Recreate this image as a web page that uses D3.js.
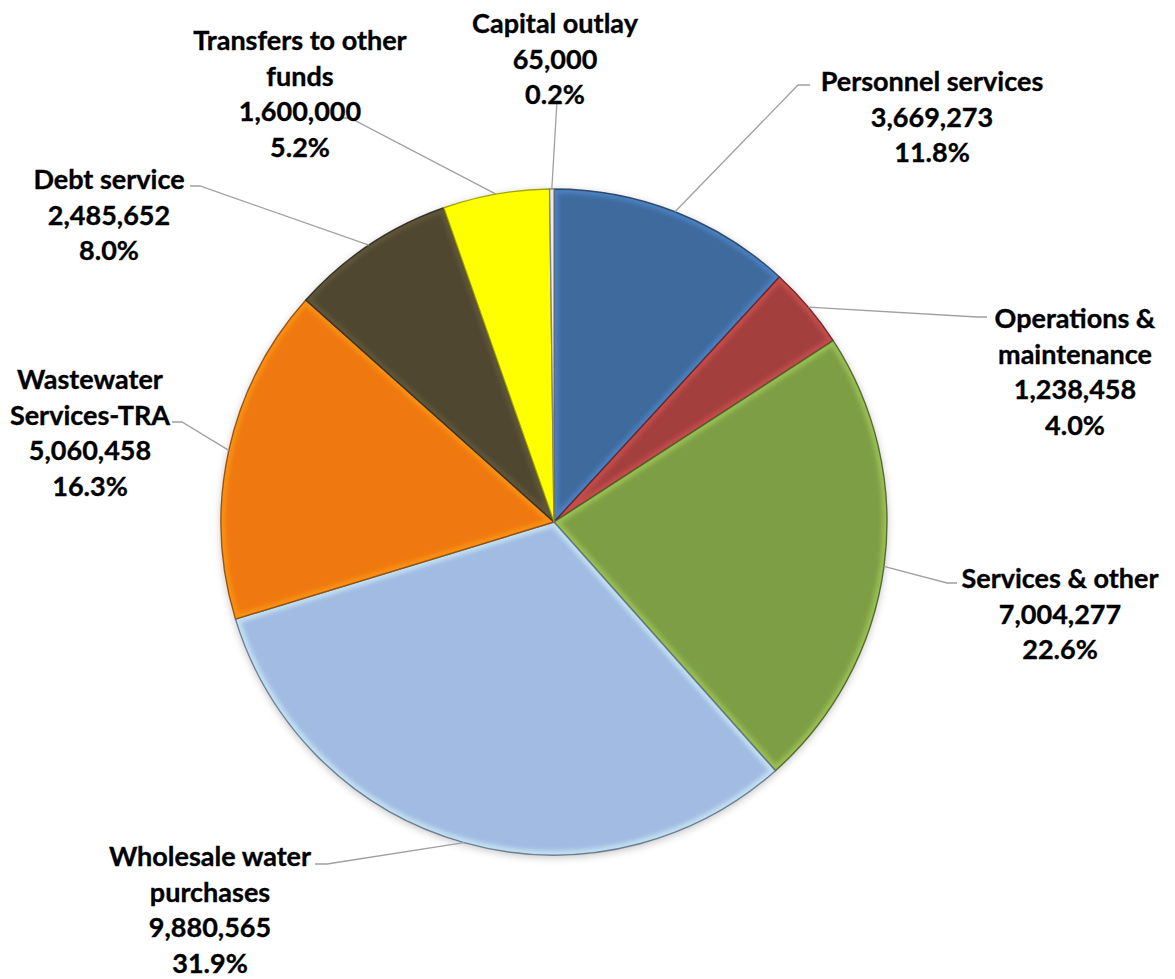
<!DOCTYPE html>
<html>
<head>
<meta charset="utf-8">
<script src="https://cdn.jsdelivr.net/npm/d3@7"></script>
<style>
  html, body { margin: 0; padding: 0; background: #fff; }
  svg { display: block; }
  .lbl { font-family: Lato, "Open Sans", sans-serif; font-weight: 700; font-size: 27px; fill: #000; stroke: #000; stroke-width: 0.35px; }
</style>
</head>
<body>
<div id="chart"></div>
<script>
// Expense categories, clockwise from 12 o'clock
const categories = [
  "Personnel services",
  "Operations & maintenance",
  "Services & other",
  "Wholesale water purchases",
  "Wastewater Services-TRA",
  "Debt service",
  "Transfers to other funds",
  "Capital outlay"
];
const amounts = [3669273, 1238458, 7004277, 9880565, 5060458, 2485652, 1600000, 65000];
const percentLabels = ["11.8%", "4.0%", "22.6%", "31.9%", "16.3%", "8.0%", "5.2%", "0.2%"];
// How each category name wraps onto lines
const nameLines = [
  ["Personnel services"],
  ["Operations &", "maintenance"],
  ["Services & other"],
  ["Wholesale water", "purchases"],
  ["Wastewater", "Services-TRA"],
  ["Debt service"],
  ["Transfers to other", "funds"],
  ["Capital outlay"]
];
const colors = ["#3E6A9E", "#A3403E", "#7E9E45", "#A1BBE2", "#F07810", "#4F4730", "#FFFF00", "#D0D0D0"];

const W = 1175, H = 979;
const cx = 554, cy = 522, R = 333;
const lineH = 35.5;

// Label layout: text centre x, first line centre y, leader elbow and end
const labelLayout = [
  { x: 932, y: 80,  elbow: [798, 85],  end: [810, 85] },
  { x: 1075, y: 317, elbow: [977, 317], end: [987, 317] },
  { x: 1060, y: 577, elbow: [947, 583], end: [957, 583] },
  { x: 210, y: 855, elbow: [327, 864], end: [315, 864] },
  { x: 90,  y: 378, elbow: [182, 422], end: [172, 422] },
  { x: 109, y: 178, elbow: [200, 186], end: [190, 186] },
  { x: 300, y: 39,  elbow: [350, 118], end: [340, 118] },
  { x: 555, y: 22,  elbow: [557, 101], end: [557, 101] }
];

const fmt = d3.format(",");

const svg = d3.select("#chart").append("svg")
  .attr("width", W).attr("height", H);

const defs = svg.append("defs");

// soft shadow around the pie
const shadow = defs.append("filter").attr("id", "shadow")
  .attr("x", "-10%").attr("y", "-10%").attr("width", "120%").attr("height", "120%");
shadow.append("feGaussianBlur").attr("in", "SourceAlpha").attr("stdDeviation", 4).attr("result", "b");
shadow.append("feOffset").attr("in", "b").attr("dx", 0).attr("dy", 2).attr("result", "o");
shadow.append("feComponentTransfer").attr("in", "o").attr("result", "s")
  .append("feFuncA").attr("type", "linear").attr("slope", 0.25);
const merge = shadow.append("feMerge");
merge.append("feMergeNode").attr("in", "s");
merge.append("feMergeNode").attr("in", "SourceGraphic");

// blur for the bevel highlight
defs.append("filter").attr("id", "soft")
  .append("feGaussianBlur").attr("stdDeviation", 2.2);

const pie = d3.pie().sort(null).value(d => d)(amounts);
const arc = d3.arc().innerRadius(0).outerRadius(R);

const g = svg.append("g").attr("transform", `translate(${cx},${cy})`);

// base shadow disc
g.append("g").attr("filter", "url(#shadow)")
  .selectAll("path").data(pie).join("path")
  .attr("d", arc).attr("fill", (d, i) => colors[i]);

// per-slice bevel: light inner band, dark outline
const slices = g.append("g").selectAll("g").data(pie).join("g");

slices.each(function (d, i) {
  const sel = d3.select(this);
  const id = "clip" + i;
  defs.append("clipPath").attr("id", id)
    .append("path").attr("d", arc(d)).attr("transform", `translate(${cx},${cy})`);
  sel.append("path").attr("d", arc(d)).attr("fill", colors[i]);
  const gl = sel.append("g").attr("clip-path", `url(#${id})`)
    .attr("transform", `translate(${-cx},${-cy})`);
  gl.append("path").attr("d", arc(d))
    .attr("transform", `translate(${cx},${cy})`)
    .attr("fill", "none")
    .attr("stroke", d3.color(colors[i]).brighter(0.9))
    .attr("stroke-width", 9)
    .attr("stroke-opacity", 0.55)
    .attr("filter", "url(#soft)");
  sel.append("path").attr("d", arc(d))
    .attr("fill", "none")
    .attr("stroke", d3.color(colors[i]).darker(1.5))
    .attr("stroke-width", 1.4)
    .attr("stroke-opacity", 0.85)
    .attr("stroke-linejoin", "round");
});

// leader lines from slice mid-arc to the label
const midPoint = d => {
  const a = (d.startAngle + d.endAngle) / 2;
  return [cx + R * Math.sin(a), cy - R * Math.cos(a)];
};

svg.append("g").selectAll("path").data(pie).join("path")
  .attr("d", (d, i) => {
    const p = midPoint(d), L = labelLayout[i];
    return d3.line()([p, L.elbow, L.end]);
  })
  .attr("fill", "none")
  .attr("stroke", "#A0A0A0")
  .attr("stroke-width", 1.3);

// labels: name lines, amount, percent
const labels = svg.append("g").selectAll("text").data(pie).join("text")
  .attr("class", "lbl")
  .attr("text-anchor", "middle")
  .attr("dominant-baseline", "central");

labels.each(function (d, i) {
  const L = labelLayout[i];
  const lines = nameLines[i].concat([fmt(amounts[i]), percentLabels[i]]);
  d3.select(this).selectAll("tspan").data(lines).join("tspan")
    .attr("x", L.x)
    .attr("y", (t, k) => L.y + k * lineH)
    .text(t => t);
});
</script>
</body>
</html>
